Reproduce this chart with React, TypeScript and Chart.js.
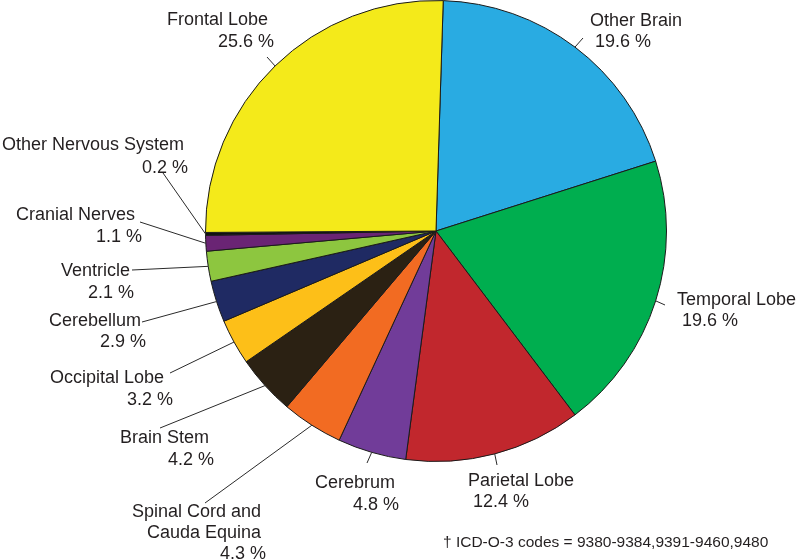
import React, { useEffect, useRef } from "react";
import { Chart, registerables } from "chart.js";

Chart.register(...registerables);

// ---- data ----
const categories: string[] = [
  "Other Brain",
  "Temporal Lobe",
  "Parietal Lobe",
  "Cerebrum",
  "Spinal Cord and\nCauda Equina",
  "Brain Stem",
  "Occipital Lobe",
  "Cerebellum",
  "Ventricle",
  "Cranial Nerves",
  "Other Nervous System",
  "Frontal Lobe",
];
const percents: number[] = [19.6, 19.6, 12.4, 4.8, 4.3, 4.2, 3.2, 2.9, 2.1, 1.1, 0.2, 25.6];
const footnote = "\u2020 ICD-O-3 codes = 9380-9384,9391-9460,9480";

// ---- styles / layout ----
const colors: string[] = [
  "#29abe2",
  "#00ae4f",
  "#c1272d",
  "#713c99",
  "#f26b22",
  "#2b2113",
  "#fdbf18",
  "#1f2a63",
  "#8dc63f",
  "#6a2474",
  "#111111",
  "#f4ea1a",
];
// label line positions (left x, baseline y) and leader end point
const labelLayout: { lines: [number, number][]; end: [number, number] }[] = [
  { lines: [[590, 26], [595, 47]], end: [583, 38] },
  { lines: [[677, 305], [682, 326]], end: [665, 305] },
  { lines: [[468, 486], [473, 507]], end: [497, 465] },
  { lines: [[315, 488], [353, 510]], end: [367, 463] },
  { lines: [[132, 517], [147, 538], [220, 559]], end: [205, 503] },
  { lines: [[120, 443], [168, 465]], end: [160, 428] },
  { lines: [[50, 383], [127, 405]], end: [170, 373] },
  { lines: [[49, 326], [100, 347]], end: [142, 322] },
  { lines: [[61, 276], [88, 298]], end: [132, 270] },
  { lines: [[16, 220], [96, 242]], end: [140, 222] },
  { lines: [[2, 150], [142, 173]], end: [163, 173] },
  { lines: [[167, 25], [218, 47]], end: [267, 57] },
];

const FONT = '"Liberation Sans", Arial, Helvetica, sans-serif';
const TEXT_COLOR = "#231f20";

const labelPlugin = {
  id: "pieLabels",
  afterDraw(chart: any) {
    const ctx = chart.ctx;
    const meta = chart.getDatasetMeta(0);
    ctx.save();
    meta.data.forEach((arc: any, i: number) => {
      const { startAngle, endAngle, outerRadius, x, y } = arc.getProps(
        ["startAngle", "endAngle", "outerRadius", "x", "y"],
        true
      );
      const mid = (startAngle + endAngle) / 2;
      const sx = x + Math.cos(mid) * outerRadius;
      const sy = y + Math.sin(mid) * outerRadius;
      const lay = labelLayout[i];
      ctx.strokeStyle = "#2a2a2a";
      ctx.lineWidth = 1;
      ctx.beginPath();
      ctx.moveTo(sx, sy);
      ctx.lineTo(lay.end[0], lay.end[1]);
      ctx.stroke();

      const texts = categories[i].split("\n").concat([percents[i].toFixed(1) + " %"]);
      ctx.fillStyle = TEXT_COLOR;
      ctx.font = "18px " + FONT;
      ctx.textAlign = "left";
      ctx.textBaseline = "alphabetic";
      texts.forEach((t, j) => {
        const p = lay.lines[j];
        ctx.fillText(t, p[0], p[1]);
      });
    });
    ctx.font = "15.5px " + FONT;
    ctx.fillStyle = TEXT_COLOR;
    ctx.textAlign = "left";
    ctx.fillText(footnote, 443, 547);
    ctx.restore();
  },
};

export default function App() {
  const ref = useRef<HTMLCanvasElement | null>(null);
  useEffect(() => {
    if (!ref.current) return;
    const chart = new Chart(ref.current, {
      type: "pie",
      data: {
        labels: categories,
        datasets: [
          {
            data: percents,
            backgroundColor: colors,
            borderColor: "#1a1a1a",
            borderWidth: 1,
          },
        ],
      },
      options: {
        responsive: false,
        animation: false,
        rotation: 1.8,
        layout: { padding: { left: 204, right: 130, top: 0, bottom: 98 } },
        plugins: {
          legend: { display: false },
          tooltip: { enabled: false },
        },
        events: [],
      },
      plugins: [labelPlugin],
    });
    return () => chart.destroy();
  }, []);
  return (
    <div style={{ position: "absolute", left: 0, top: 0, width: 798, height: 560, background: "#fff" }}>
      <canvas ref={ref} width={798} height={560} style={{ width: 798, height: 560 }} />
    </div>
  );
}
